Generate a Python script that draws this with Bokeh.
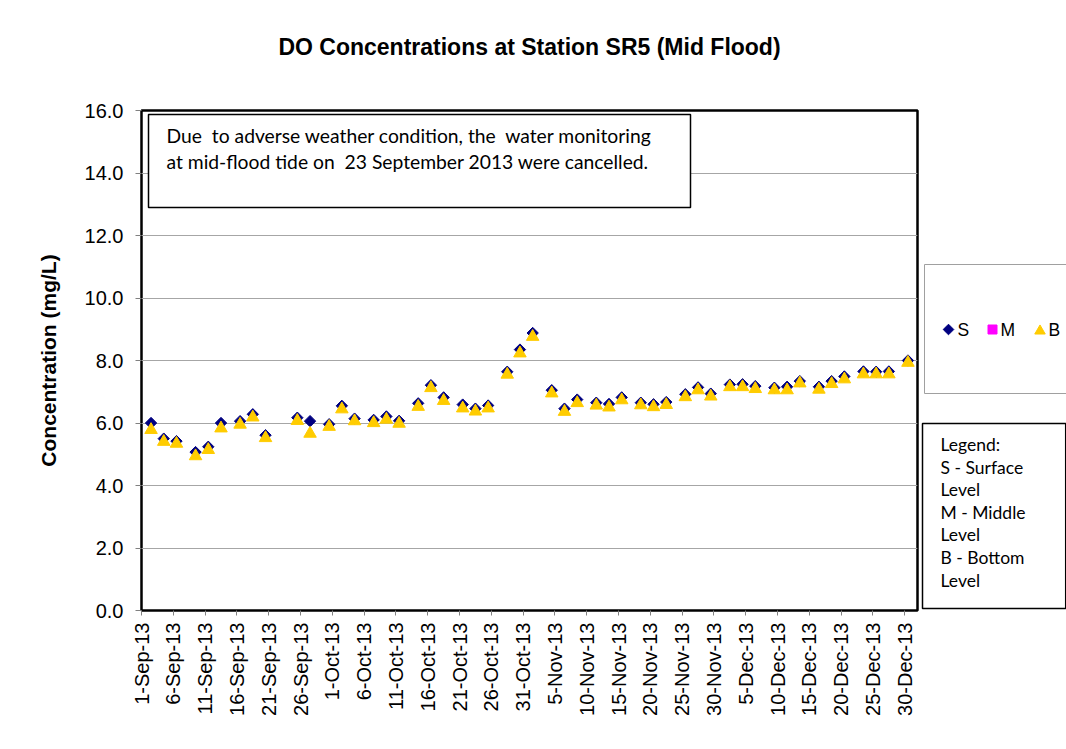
import numpy as np
import pandas as pd
from bokeh.plotting import figure
from bokeh.layouts import row
from bokeh.models import (ColumnDataSource, FixedTicker, PrintfTickFormatter, Label,
                          BoxAnnotation, Range1d)
from bokeh.embed import file_html
from bokeh.resources import INLINE

# ---------------- data ----------------
title_text = "DO Concentrations at Station SR5 (Mid Flood)"
y_label = "Concentration (mg/L)"

sample_dates = [
    "2013-09-02", "2013-09-04", "2013-09-06", "2013-09-09", "2013-09-11", "2013-09-13",
    "2013-09-16", "2013-09-18", "2013-09-20", "2013-09-25", "2013-09-27", "2013-09-30",
    "2013-10-02", "2013-10-04", "2013-10-07", "2013-10-09", "2013-10-11", "2013-10-14",
    "2013-10-16", "2013-10-18", "2013-10-21", "2013-10-23", "2013-10-25", "2013-10-28",
    "2013-10-30", "2013-11-01", "2013-11-04", "2013-11-06", "2013-11-08", "2013-11-11",
    "2013-11-13", "2013-11-15", "2013-11-18", "2013-11-20", "2013-11-22", "2013-11-25",
    "2013-11-27", "2013-11-29", "2013-12-02", "2013-12-04", "2013-12-06", "2013-12-09",
    "2013-12-11", "2013-12-13", "2013-12-16", "2013-12-18", "2013-12-20", "2013-12-23",
    "2013-12-25", "2013-12-27", "2013-12-30",
]

surface_do = [
    6.00, 5.50, 5.42, 5.07, 5.24, 6.00, 6.06, 6.28, 5.61, 6.17, 6.06, 5.96,
    6.55, 6.14, 6.10, 6.21, 6.07, 6.63, 7.21, 6.82, 6.59, 6.46, 6.56, 7.64,
    8.35, 8.88, 7.05, 6.46, 6.75, 6.65, 6.61, 6.82, 6.65, 6.60, 6.67, 6.92,
    7.14, 6.94, 7.23, 7.24, 7.18, 7.13, 7.16, 7.34, 7.16, 7.34, 7.49, 7.65,
    7.64, 7.65, 8.00,
]

middle_do = [None] * len(sample_dates)

bottom_do = [
    5.78, 5.40, 5.34, 4.94, 5.14, 5.83, 5.95, 6.18, 5.52, 6.07, 5.66, 5.88,
    6.44, 6.06, 6.00, 6.11, 5.98, 6.52, 7.12, 6.71, 6.47, 6.37, 6.47, 7.55,
    8.23, 8.76, 6.95, 6.36, 6.64, 6.56, 6.50, 6.73, 6.57, 6.51, 6.58, 6.83,
    7.05, 6.85, 7.15, 7.15, 7.09, 7.05, 7.05, 7.27, 7.07, 7.25, 7.40, 7.56,
    7.56, 7.56, 7.93,
]

tick_dates = [
    "2013-09-01", "2013-09-06", "2013-09-11", "2013-09-16", "2013-09-21", "2013-09-26",
    "2013-10-01", "2013-10-06", "2013-10-11", "2013-10-16", "2013-10-21", "2013-10-26",
    "2013-10-31", "2013-11-05", "2013-11-10", "2013-11-15", "2013-11-20", "2013-11-25",
    "2013-11-30", "2013-12-05", "2013-12-10", "2013-12-15", "2013-12-20", "2013-12-25",
    "2013-12-30",
]
tick_labels = [
    "1-Sep-13", "6-Sep-13", "11-Sep-13", "16-Sep-13", "21-Sep-13", "26-Sep-13",
    "1-Oct-13", "6-Oct-13", "11-Oct-13", "16-Oct-13", "21-Oct-13", "26-Oct-13",
    "31-Oct-13", "5-Nov-13", "10-Nov-13", "15-Nov-13", "20-Nov-13", "25-Nov-13",
    "30-Nov-13", "5-Dec-13", "10-Dec-13", "15-Dec-13", "20-Dec-13", "25-Dec-13",
    "30-Dec-13",
]
axis_start = "2013-09-01"
axis_end = "2014-01-01"
y_ticks = [0, 2, 4, 6, 8, 10, 12, 14, 16]

note_lines = [
    "Due\u00a0 to adverse weather condition, the\u00a0 water monitoring",
    "at mid-flood tide on\u00a0 23 September 2013 were cancelled.",
]
legend_names = ["S", "M", "B"]
legend_note = ["Legend:", "S - Surface", "Level", "M - Middle", "Level", "B - Bottom", "Level"]

# ---------------- derived positions (days since axis start, centred in day) -------------
t0 = pd.Timestamp(axis_start)
x_days = [(pd.Timestamp(d) - t0).days + 0.5 for d in sample_dates]
tick_pos = [(pd.Timestamp(d) - t0).days for d in tick_dates]
x_max = (pd.Timestamp(axis_end) - t0).days

src = ColumnDataSource(dict(
    x=x_days,
    s=surface_do,
    m=[np.nan if v is None else v for v in middle_do],
    b=bottom_do,
))

S_COL = "#000080"
M_COL = "#FF00FF"
B_COL = "#FFCC00"

# ---------------- main chart ----------------
p = figure(width=920, height=749, x_range=(0, x_max), y_range=(0, 16),
           output_backend="svg", toolbar_location=None,
           min_border_left=141, min_border_right=3,
           min_border_top=110, min_border_bottom=139)
p.background_fill_color = "white"
p.border_fill_color = "white"
p.outline_line_color = "black"
p.outline_line_width = 2.5

# trailing empty line lifts the title towards the top of the header band
p.title.text = title_text + "\n"
p.title.align = "center"
p.title.text_font = "Liberation Sans"
p.title.text_font_style = "bold"
p.title.text_font_size = "23px"
p.title.text_color = "black"
p.title.standoff = 50

p.xgrid.visible = False
p.ygrid.grid_line_color = "#a6a6a6"
p.ygrid.grid_line_width = 1

# y axis
p.yaxis.ticker = FixedTicker(ticks=y_ticks)
p.yaxis.formatter = PrintfTickFormatter(format="%.1f")
p.yaxis.major_label_text_font = "Liberation Sans"
p.yaxis.major_label_text_font_size = "20px"
p.yaxis.major_label_text_color = "black"
p.yaxis.major_tick_out = 6
p.yaxis.major_tick_in = 0
p.yaxis.major_tick_line_color = "#808080"
p.yaxis.minor_tick_line_color = None
p.yaxis.axis_line_color = None
p.yaxis.major_label_standoff = 12
p.yaxis.axis_label = y_label
p.yaxis.axis_label_text_font = "Liberation Sans"
p.yaxis.axis_label_text_font_style = "bold"
p.yaxis.axis_label_text_font_size = "21px"
p.yaxis.axis_label_text_color = "black"
p.yaxis.axis_label_standoff = 22

# x axis
p.xaxis.ticker = FixedTicker(ticks=tick_pos)
p.xaxis.major_label_overrides = {pos: lab for pos, lab in zip(tick_pos, tick_labels)}
p.xaxis.major_label_orientation = np.pi / 2
p.xaxis.major_label_text_font = "Liberation Sans"
p.xaxis.major_label_text_font_size = "20px"
p.xaxis.major_label_text_color = "black"
p.xaxis.major_tick_out = 5
p.xaxis.major_tick_in = 0
p.xaxis.major_tick_line_color = "#808080"
p.xaxis.minor_tick_line_color = None
p.xaxis.axis_line_color = None
p.xaxis.major_label_standoff = 7

# data
p.scatter("x", "s", source=src, marker="square", angle=np.pi / 4, size=8,
          fill_color=S_COL, line_color=S_COL)
p.scatter("x", "m", source=src, marker="square", size=8,
          fill_color=M_COL, line_color=M_COL)
p.scatter("x", "b", source=src, marker="triangle", size=12.5,
          fill_color=B_COL, line_color=B_COL)

# note box inside plot area (screen units relative to frame, y upward)
p.add_layout(BoxAnnotation(left=7, right=549, top=496, bottom=403,
                           left_units="screen", right_units="screen",
                           top_units="screen", bottom_units="screen",
                           fill_color="white", fill_alpha=1.0,
                           line_color="black", line_alpha=1.0, line_width=1.5))
for i, line in enumerate(note_lines):
    p.add_layout(Label(x=25, y=475 - 26 * i, x_units="screen", y_units="screen",
                       text=line, text_align="left", text_baseline="alphabetic",
                       text_font="Lato", text_font_size="19.3px", text_color="black"))

# ---------------- side panel with the keys ----------------
# (its frame is aligned by the row layout with the main frame: page y 110..610)
p2 = figure(width=146, height=749, x_range=Range1d(0, 146), y_range=Range1d(610, 110),
            x_axis_location=None, y_axis_location=None, toolbar_location=None,
            output_backend="svg", min_border_left=0, min_border_right=0,
            min_border_top=110, min_border_bottom=139)
p2.outline_line_color = None
p2.background_fill_color = "white"
p2.border_fill_color = "white"
p2.grid.grid_line_color = None

# series key box
p2.add_layout(BoxAnnotation(left=4, right=170, top=264, bottom=393,
                            fill_alpha=0.0,
                            line_color="#a0a0a0", line_alpha=1.0, line_width=1))
p2.scatter(x=[28], y=[329], marker="square", angle=np.pi / 4, size=7.5,
           fill_color=S_COL, line_color=S_COL)
p2.scatter(x=[72], y=[329], marker="square", size=9,
           fill_color=M_COL, line_color=M_COL)
p2.scatter(x=[119.5], y=[330.5], marker="triangle", size=10.5,
           fill_color=B_COL, line_color=B_COL)
for lx, name in zip([37, 80, 128], legend_names):
    p2.add_layout(Label(x=lx, y=329, text=name, text_align="left",
                        text_baseline="alphabetic", text_font="Liberation Sans",
                        text_font_size="17.5px", text_color="black"))

# legend note box
p2.add_layout(BoxAnnotation(left=2, right=145.2, top=423, bottom=608,
                            fill_alpha=0.0,
                            line_color="black", line_alpha=1.0, line_width=1.5))
note_baselines = [444, 466.7, 489, 512.3, 534, 557.3, 579.7]
for yb, line in zip(note_baselines, legend_note):
    p2.add_layout(Label(x=20, y=yb, text=line, text_align="left",
                        text_baseline="alphabetic", text_font="Lato",
                        text_font_size="17.5px", text_color="black"))

layout = row(p, p2)
open("out.html", "w").write(file_html(layout, INLINE))
